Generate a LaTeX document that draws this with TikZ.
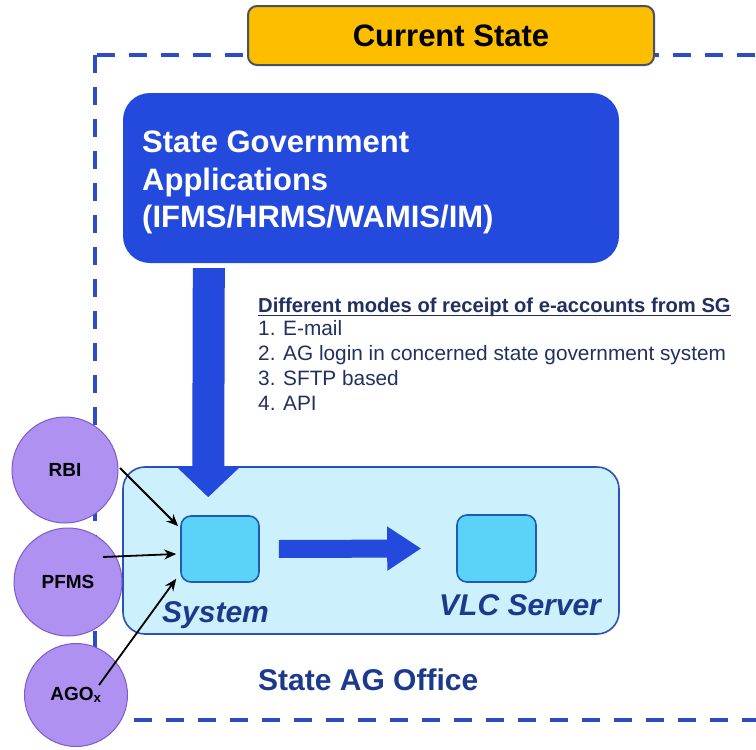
\documentclass[tikz,border=0pt]{standalone}
\usepackage{fontspec}
\setmainfont{Liberation Sans}
\usetikzlibrary{calc,arrows.meta}
\definecolor{dashblue}{HTML}{2B4CC4}
\definecolor{sgblue}{HTML}{2349DD}
\definecolor{officefill}{HTML}{CCF1FD}
\definecolor{officeborder}{HTML}{2B4FBF}
\definecolor{boxfill}{HTML}{5BD3F8}
\definecolor{boxborder}{HTML}{1F5BB5}
\definecolor{navy}{HTML}{1B3A8C}
\definecolor{listnavy}{HTML}{22305F}
\definecolor{statefill}{HTML}{FDBE00}
\definecolor{stateborder}{HTML}{4A5163}
\definecolor{circfill}{HTML}{AE91F1}
\definecolor{circborder}{HTML}{7D5BC9}
\tikzset{
  frame/.style={draw=dashblue, line width=4pt, dash pattern=on 18pt off 14pt},
  statebox/.style={draw=stateborder, line width=2pt, fill=statefill, rounded corners=9pt,
    minimum width=406pt, minimum height=59pt, inner sep=0pt,
    font=\fontsize{31}{36}\selectfont\bfseries, text=black},
  sgbox/.style={fill=sgblue, draw=none, rounded corners=27pt, minimum width=496pt, minimum height=170pt, inner sep=0pt},
  sgtext/.style={anchor=base west, inner sep=0pt, text=white, font=\fontsize{31}{36}\selectfont\bfseries},
  office/.style={draw=officeborder, line width=1.6pt, fill=officefill, rounded corners=22pt,
    minimum width=496pt, minimum height=167pt, inner sep=0pt},
  smallbox/.style={draw=boxborder, line width=1.6pt, fill=boxfill, rounded corners=10pt,
    minimum width=78pt, minimum height=66pt, inner sep=0pt},
  bigitalic/.style={anchor=base west, inner sep=0pt, text=navy, font=\fontsize{30}{34}\selectfont\bfseries\itshape},
  bigbold/.style={anchor=base west, inner sep=0pt, text=navy, font=\fontsize{30}{34}\selectfont\bfseries},
  listtext/.style={anchor=base west, inner sep=0pt, text=listnavy, font=\fontsize{20.8}{24}\selectfont},
  listhead/.style={anchor=base west, inner sep=0pt, text=listnavy, font=\fontsize{20.2}{24}\selectfont\bfseries},
  uline/.style={draw=listnavy, line width=1.8pt},
  source/.style={circle, draw=circborder, line width=1pt, fill=circfill, inner sep=0pt,
    font=\fontsize{19}{22}\selectfont\bfseries, text=black},
  feed/.style={draw=black, line width=1.8pt, -{Stealth[length=12pt,width=10pt]}},
}
\begin{document}
\begin{tikzpicture}[x=1pt,y=-1pt]
\clip (0,0) rectangle (756,750);
\fill[white] (0,0) rectangle (756,750);
% dashed frame
\draw[frame] (95,55) rectangle (800,720);
% title
\node[statebox] (title) at (451,35.5) {Current State};
% state government box
\node[sgbox] (sga) at (371,178) {};
\node[sgtext] (sg1) at (142,152) {State Government};
\node[sgtext] (sg2) at (142,190) {Applications};
\node[sgtext] (sg3) at (142,227) {(IFMS/HRMS/WAMIS/IM)};
% list
\node[listhead] (lh) at (258,312) {Different modes of receipt of e-accounts from SG};
\draw[uline] ($(lh.base west)+(0,3.5)$) -- ($(lh.base east)+(0,3.5)$);
\node[listtext] (n1) at (258,335) {1.};
\node[listtext] (t1) at (283,335) {E-mail};
\node[listtext] (n2) at (258,360) {2.};
\node[listtext] (t2) at (283,360) {AG login in concerned state government system};
\node[listtext] (n3) at (258,385) {3.};
\node[listtext] (t3) at (283,385) {SFTP based};
\node[listtext] (n4) at (258,410) {4.};
\node[listtext] (t4) at (283,410) {API};
% office
\node[office] (office) at (371,550.5) {};
\node[smallbox] (sys) at (220,549) {};
\node[smallbox, minimum width=79pt, minimum height=67pt] (vlc) at (496.5,548.5) {};
\node[bigitalic] (syslbl) at (162,622) {System};
\node[bigitalic] (vlclbl) at (439,615) {VLC Server};
\node[bigbold] (officelbl) at (258,690) {State AG Office};
% big arrows
\draw[sgblue, line width=32pt, -{Triangle[width=63pt,length=31pt]}]
  ($(sga.south west)+(86,5)$) -- ($(sys.north west)+(28,-18)$);
\draw[sgblue, line width=18pt, -{Triangle[width=42pt,length=34pt]}]
  ($(sys.east)+(19,0)$) -- ($(vlc.west)+(-35,0)$);
% sources
\node[source, minimum size=106pt] (rbi) at (65,470) {RBI};
\node[source, minimum size=108pt] (pfms) at (68,582) {PFMS};
\node[source, minimum size=103pt] (ago) at (76,695) {AGO\textsubscript{x}};
% feeds
\draw[feed] ($(rbi.center)+(55,-2)$) -- ($(sys.north west)+(-2,11)$);
\draw[feed] ($(pfms.center)+(35,-25)$) -- ($(sys.west)+(-4,5)$);
\draw[feed] ($(ago.center)+(23,-10)$) -- ($(sys.south west)+(-4,-4)$);
\end{tikzpicture}
\end{document}
